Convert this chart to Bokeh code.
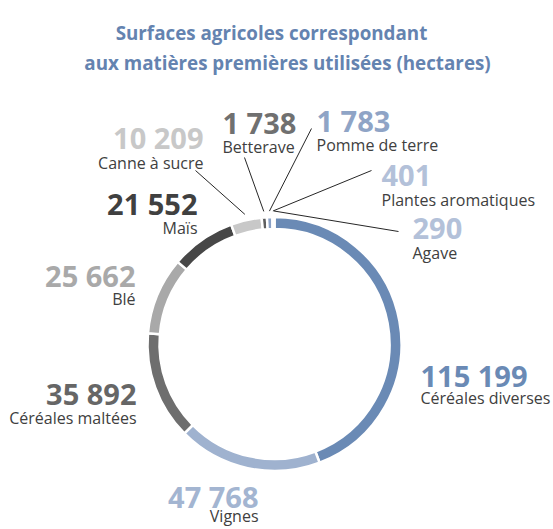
import math
from bokeh.plotting import figure
from bokeh.models import ColumnDataSource, Range1d
from bokeh.core.properties import value
from bokeh.embed import file_html
from bokeh.resources import INLINE

# ---------------- data ----------------
categories = ["Céréales diverses", "Vignes", "Céréales maltées", "Blé", "Maïs",
              "Canne à sucre", "Betterave", "Pomme de terre", "Plantes aromatiques", "Agave"]
hectares = [115199, 47768, 35892, 25662, 21552, 10209, 1738, 1783, 401, 290]
slice_colors = ["#6a8ab5", "#9fb2cf", "#6e6e6e", "#a9a9a9", "#474747",
                "#c8c8c8", "#5e5e5e", "#8aa1c6", "#b3c1d9", "#c4cfe2"]
number_colors = ["#6a8ab5", "#a3b5d1", "#666666", "#a9a9a9", "#404040",
                 "#c8c8c8", "#707070", "#8fa4c6", "#b3c1d9", "#b3c1d9"]
title_lines = ["Surfaces agricoles correspondant", "aux matières premières utilisées (hectares)"]

# ---------------- layout (screen pixels) ----------------
W, H = 553, 529
def X(px): return px
def Y(py): return H - py

CX, CY = 274, 343.5
R_OUT, R_IN, R_LEAD = 127, 115, 133

# label x, number baseline, name baseline, alignment
label_x = [420, 258, 136, 135, 197, 203, 222, 316, 381, 412]
num_base = [375, 496, 393, 275, 203, 137, 122, 120, 175, 228]
name_base = [397, 515, 417, 298, 227, 162, 146, 144, 199, 252]
align = ["left", "right", "right", "right", "right", "right", "left", "left", "left", "left"]
# leader line anchors near labels (only small slices)
leader_idx = [5, 6, 7, 8, 9]
leader_end = [(195, 170), (244, 157), (311, 128), (371, 170), (398, 231)]

FONT = "Open Sans"

p = figure(width=W, height=H, output_backend="svg", toolbar_location=None,
           x_range=Range1d(0, W), y_range=Range1d(0, H),
           x_axis_location=None, y_axis_location=None, min_border=0)
p.grid.visible = False
p.outline_line_color = None
p.background_fill_color = "white"
p.border_fill_color = "white"

total = sum(hectares)
starts, ends, mids = [], [], []
cum = 0.0
for v in hectares:
    a0 = math.pi / 2 - 2 * math.pi * cum / total
    cum += v
    a1 = math.pi / 2 - 2 * math.pi * cum / total
    starts.append(a0)
    ends.append(a1)
    mids.append((a0 + a1) / 2)

src = ColumnDataSource(dict(x=[X(CX)] * len(hectares), y=[Y(CY)] * len(hectares),
                            start=starts, end=ends, color=slice_colors))
p.annular_wedge(x="x", y="y", inner_radius=R_IN, outer_radius=R_OUT,
                start_angle="start", end_angle="end", direction="clock",
                fill_color="color", line_color="white", line_width=2.5, source=src)

# leader lines
xs, ys = [], []
for i, (ex, ey) in zip(leader_idx, leader_end):
    a = mids[i]
    xs.append([X(CX) + R_LEAD * math.cos(a), X(ex)])
    ys.append([Y(CY) + R_LEAD * math.sin(a), Y(ey)])
p.multi_line(xs=xs, ys=ys, line_color="#262626", line_width=1)

# labels
def fmt(v):
    return f"{v:,}".replace(",", " ")

for a in ("left", "right"):
    idx = [i for i in range(len(hectares)) if align[i] == a]
    s_num = ColumnDataSource(dict(x=[X(label_x[i]) for i in idx], y=[Y(num_base[i]) for i in idx],
                                  t=[fmt(hectares[i]) for i in idx], c=[number_colors[i] for i in idx]))
    p.text(x="x", y="y", text="t", text_color="c", text_font=value(FONT),
           text_font_style="bold", text_font_size="29px", text_align=a,
           text_baseline="alphabetic", source=s_num)
    s_name = ColumnDataSource(dict(x=[X(label_x[i]) for i in idx], y=[Y(name_base[i]) for i in idx],
                                   t=[categories[i] for i in idx]))
    p.text(x="x", y="y", text="t", text_color="#404040", text_font=value(FONT),
           text_font_size="16px", text_align=a, text_baseline="alphabetic", source=s_name)

# title
title_cx = [271, 287]
title_base = [32, 62]
s_title = ColumnDataSource(dict(x=[X(c) for c in title_cx], y=[Y(b) for b in title_base], t=title_lines))
p.text(x="x", y="y", text="t", text_color="#6483b0", text_font=value(FONT),
       text_font_style="bold", text_font_size="18.8px", text_align="center",
       text_baseline="alphabetic", source=s_title)

open("out.html", "w").write(file_html(p, INLINE))
